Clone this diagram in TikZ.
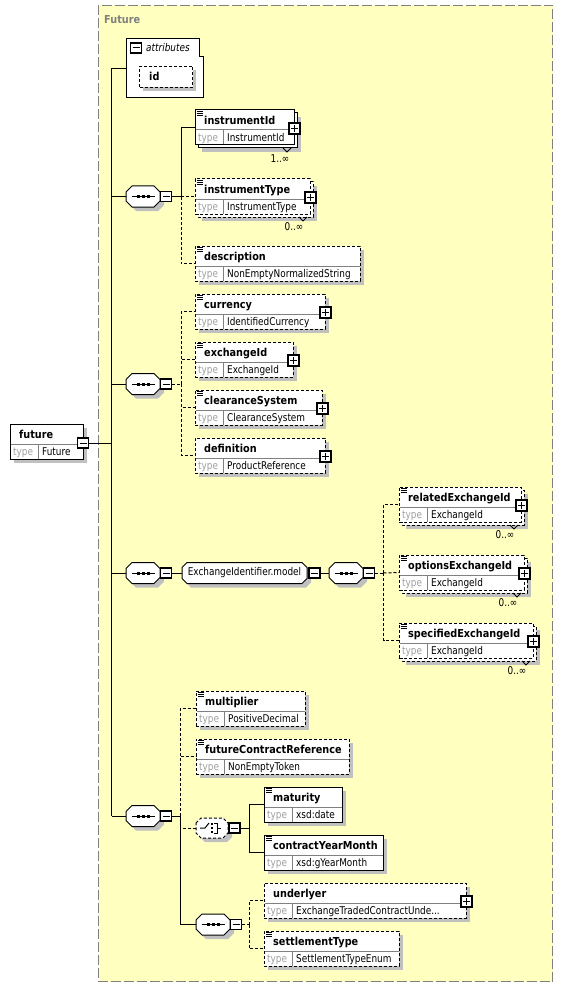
\documentclass[tikz,border=0pt]{standalone}
\usepackage{fontspec}
\setmainfont{DejaVu Sans}
\usetikzlibrary{calc}
\definecolor{bgyellow}{RGB}{255,255,192}
\definecolor{framegray}{RGB}{128,128,128}
\definecolor{shadowgray}{RGB}{192,192,192}
\definecolor{typegray}{RGB}{160,160,160}
\definecolor{divgray}{RGB}{128,128,128}
\newcommand{\tallr}[1]{\scalebox{1}[1.2]{#1}}
\newcommand{\tallb}[1]{\scalebox{1}[1.13]{#1}}
\tikzset{
  solidbox/.style={draw=black, line width=1pt},
  dashbox/.style={draw=black, line width=1pt, dash pattern=on 3pt off 2pt},
  divline/.style={draw=divgray, line width=1pt},
  titletext/.style={font=\fontsize{9.7}{11}\selectfont\bfseries, inner sep=0pt, text=black},
  typelbl/.style={font=\fontsize{8.9}{10}\selectfont, inner sep=0pt, text=typegray},
  typeval/.style={font=\fontsize{8.9}{10}\selectfont, inner sep=0pt, text=black},
  occtext/.style={font=\fontsize{8.9}{10}\selectfont, inner sep=0pt},
  pmbox/.style={draw=black, line width=1.3pt, fill=white, inner sep=0pt, minimum width=11pt, minimum height=11pt},
  minusbox/.style={draw=black, line width=1.3pt, fill=white, inner sep=0pt, minimum width=11pt, minimum height=10pt},
  conn/.style={draw=black, line width=1pt},
  dconn/.style={draw=black, line width=1pt, dash pattern=on 3pt off 2pt},
}
% element box core: name, style, x, y, w, title, type
\newcommand{\elcore}[7]{%
  \node[#2, fill=white, minimum width=#5pt, minimum height=35pt, inner sep=0pt, outer sep=0pt, anchor=north west] (#1) at (#3,#4) {};
  \draw[divline] (#3+0.5,#4+20) -- (#3+#5-0.5,#4+20);
  \draw[divline] (#3+28,#4+20) -- (#3+28,#4+34.5);
  \node[titletext, anchor=base west] (#1-title) at (#3+9,#4+14.5) {\tallb{#6}};
  \node[typelbl, anchor=base west] (#1-key) at (#3+3,#4+31.5) {\tallr{type}};
  \node[typeval, anchor=base west] (#1-val) at (#3+32,#4+31.5) {\tallr{#7}};
}
\newcommand{\elbox}[7]{%
  \fill[shadowgray] (#3+4,#4+4) rectangle ++(#5,35);
  \elcore{#1}{#2}{#3}{#4}{#5}{#6}{#7}}
% back box of a repeated element: style, x, y, w
\newcommand{\backbox}[4]{%
  \fill[shadowgray] (#2+7,#3+7) rectangle ++(#4,35);
  \draw[#1, fill=white] (#2+3,#3+3) rectangle ++(#4,35);
  \draw[line width=0.8pt] (#2+#4-11,#3+38) -- ++(4,4) -- ++(4,-4);
}
\newcommand{\docicon}[2]{%
  \draw[line width=0.7pt] (#1+2,#2+1.5) -- ++(6,0) (#1+2,#2+3.5) -- ++(6,0) (#1+2,#2+5.5) -- ++(6,0);}
\newcommand{\plusat}[3]{%
  \node[pmbox] (#1) at (#2,#3) {};
  \draw[line width=1pt] ($(#1.center)+(-3.5,0)$) -- ($(#1.center)+(3.5,0)$) ($(#1.center)+(0,-3.5)$) -- ($(#1.center)+(0,3.5)$);}
\newcommand{\minusat}[3]{%
  \node[minusbox] (#1) at (#2,#3) {};
  \draw[line width=1pt] ($(#1.center)+(-3.5,0)$) -- ($(#1.center)+(3.5,0)$);}
% octagon: name, style, x, y, w, h, chamfer
\newcommand{\octnode}[7]{%
  \fill[shadowgray, shift={(#3+4,#4+4)}] (0,#7) -- (#7,0) -- (#5-#7,0) -- (#5,#7) -- (#5,#6-#7) -- (#5-#7,#6) -- (#7,#6) -- (0,#6-#7) -- cycle;
  \draw[#2, fill=white, shift={(#3,#4)}] (0,#7) -- (#7,0) -- (#5-#7,0) -- (#5,#7) -- (#5,#6-#7) -- (#5-#7,#6) -- (#7,#6) -- (0,#6-#7) -- cycle;
  \node[inner sep=0pt, outer sep=0pt, minimum width=#5pt, minimum height=#6pt, anchor=north west] (#1) at (#3,#4) {};
}
\newcommand{\seqsym}[1]{%
  \draw[line width=1pt] ($(#1.center)+(-11.5,0)$) -- ($(#1.center)+(11.5,0)$);
  \foreach \d in {-5,0,5} \fill ($(#1.center)+(\d-1.5,-1.5)$) rectangle ++(3,3);
}
\begin{document}
\begin{tikzpicture}[x=1pt,y=-1pt]
\useasboundingbox (0,0) rectangle (564,987);
\fill[white] (0,0) rectangle (564,987);
% frame
\draw[fill=bgyellow, draw=framegray, line width=1pt, dash pattern=on 10pt off 3pt] (98.5,5.5) rectangle (552.5,981.5);
\node[font=\fontsize{9.7}{11}\selectfont\bfseries, text=framegray, anchor=base west, inner sep=0pt] (futlabel) at (104,24) {\tallb{Future}};

% attributes
\draw[solidbox, fill=white] (126,39) -- (199,39) -- (199,57) -- (203,57) -- (203,98) -- (126,98) -- cycle;
\node[inner sep=0pt, outer sep=0pt, minimum width=77pt, minimum height=59pt, anchor=north west] (attr) at (126,39) {};
\minusat{attrm}{136}{48}
\node[font=\fontsize{8.9}{10}\selectfont\itshape, anchor=base west, inner sep=0pt] (attrlbl) at (146,52) {\tallr{attributes}};
\fill[shadowgray] (143,70) rectangle ++(53,21);
\node[dashbox, fill=white, minimum width=53pt, minimum height=21pt, anchor=north west, inner sep=0pt] (id) at (139,66) {};
\node[titletext, anchor=base west] (idt) at (149,80.5) {\tallb{id}};

% future
\elbox{future}{solidbox}{10}{424}{73}{future}{Future}
\minusat{futm}{83}{443}

% sequence 1
\octnode{s1}{solidbox}{126}{186}{34}{21}{6}
\seqsym{s1}
\minusat{s1m}{166}{196.5}
\backbox{solidbox}{195}{110}{99}
\elcore{instrumentId}{solidbox}{195}{110}{99}{instrumentId}{InstrumentId}
\docicon{195}{110}
\plusat{instrumentIdp}{294.5}{128.5}
\node[occtext] (instrumentIdocc) at (280,159) {\tallr{1..∞}};
\backbox{dashbox}{195}{179}{115}
\elcore{instrumentType}{dashbox}{195}{179}{115}{instrumentType}{InstrumentType}
\docicon{195}{179}
\plusat{instrumentTypep}{310.5}{197.5}
\node[occtext] (instrumentTypeocc) at (294,227) {\tallr{0..∞}};
\elbox{description}{dashbox}{195}{246}{165}{description}{NonEmptyNormalizedString}
\docicon{195}{246}

% sequence 2
\octnode{s2}{solidbox}{126}{373.5}{34}{21}{6}
\seqsym{s2}
\minusat{s2m}{166}{384}
\elbox{currency}{dashbox}{195}{294}{130}{currency}{IdentifiedCurrency}
\docicon{195}{294}
\plusat{currencyp}{325.5}{312.5}
\elbox{exchangeId}{dashbox}{195}{342}{98}{exchangeId}{ExchangeId}
\docicon{195}{342}
\plusat{exchangeIdp}{293.5}{360.5}
\elbox{clearanceSystem}{dashbox}{195}{390}{127}{clearanceSystem}{ClearanceSystem}
\docicon{195}{390}
\plusat{clearanceSystemp}{322.5}{408.5}
\elbox{definition}{dashbox}{195}{438}{130}{definition}{ProductReference}
\plusat{definitionp}{325.5}{456.5}

% sequence 3
\octnode{s3}{solidbox}{126}{562.5}{34}{21}{6}
\seqsym{s3}
\minusat{s3m}{166}{573}
\octnode{model}{solidbox}{182}{562.5}{125}{21}{5}
\node[typeval] (modeltext) at (model.center) {\tallr{ExchangeIdentifier.model}};
\minusat{modelm}{314.5}{573}
\octnode{s4}{solidbox}{329}{562.5}{34}{21}{6}
\seqsym{s4}
\minusat{s4m}{369}{573}
\backbox{dashbox}{399}{487}{122}
\elcore{relatedExchangeId}{dashbox}{399}{487}{122}{relatedExchangeId}{ExchangeId}
\docicon{399}{487}
\plusat{relatedp}{521.5}{505.5}
\node[occtext] (relatedocc) at (505,535) {\tallr{0..∞}};
\backbox{dashbox}{399}{555}{125}
\elcore{optionsExchangeId}{dashbox}{399}{555}{125}{optionsExchangeId}{ExchangeId}
\docicon{399}{555}
\plusat{optionsp}{524.5}{573.5}
\node[occtext] (optionsocc) at (508,603) {\tallr{0..∞}};
\backbox{dashbox}{399}{623}{134}
\elcore{specifiedExchangeId}{dashbox}{399}{623}{134}{specifiedExchangeId}{ExchangeId}
\docicon{399}{623}
\plusat{specifiedp}{533.5}{641.5}
\node[occtext] (specifiedocc) at (517,671) {\tallr{0..∞}};

% sequence 5
\octnode{s5}{solidbox}{126}{805.5}{34}{21}{6}
\seqsym{s5}
\minusat{s5m}{166}{816}
\elbox{multiplier}{dashbox}{196}{691}{109}{multiplier}{PositiveDecimal}
\docicon{196}{691}
\elbox{fcr}{dashbox}{196}{739}{153}{futureContractReference}{NonEmptyToken}
\docicon{196}{739}
\octnode{choice}{dashbox}{196}{818}{32}{20}{5}
\draw[line width=1pt] ($(choice.center)+(-12,0)$) -- ++(5,0) -- ++(4,-5);
\foreach \d in {-4,0,4} \fill ($(choice.center)+(-1.25,\d-1.25)$) rectangle ++(2.5,2.5);
\draw[line width=1pt] ($(choice.center)+(2,-5)$) -- ++(3,0) -- ++(0,10) -- ++(-3,0);
\draw[line width=1pt] ($(choice.center)+(5,0)$) -- ++(4,0);
\minusat{choicem}{234.5}{828}
\elbox{maturity}{solidbox}{264}{787}{78}{maturity}{xsd:date}
\docicon{264}{787}
\elbox{cym}{solidbox}{264}{835}{119}{contractYearMonth}{xsd:gYearMonth}
\docicon{264}{835}
\octnode{s6}{solidbox}{196}{914}{34}{21}{6}
\seqsym{s6}
\minusat{s6m}{236}{924.5}
\elbox{underlyer}{dashbox}{264}{883}{202}{underlyer}{ExchangeTradedContractUnde...}
\plusat{underlyerp}{466.5}{901.5}
\elbox{settlementType}{dashbox}{264}{931}{135}{settlementType}{SettlementTypeEnum}
\docicon{264}{931}

% connectors
\coordinate (m0) at (111.5,68.5);
\coordinate (m5) at (111.5,816);
\coordinate (mf) at (111.5,443);
\draw[conn] (m0) -- (m5);
\draw[conn] (m0) -- (attr.west);
\draw[conn] (futm.east) -- (mf);
\draw[conn] (m0 |- s1.west) -- (s1.west);
\draw[conn] (m0 |- s2.west) -- (s2.west);
\draw[conn] (m0 |- s3.west) -- (s3.west);
\draw[conn] (m5) -- (s5.west);

\coordinate (b1) at (181,196.5);
\draw[conn] (s1m.east) -- (b1);
\draw[conn] (b1) |- (instrumentId.west);
\draw[dconn] (b1) -- (instrumentType.west);
\draw[dconn] (b1) |- (description.west);

\coordinate (b2) at (181,384);
\draw[dconn] (s2m.east) -- (b2);
\draw[dconn] (b2) |- (currency.west);
\draw[dconn] (b2) |- (exchangeId.west);
\draw[dconn] (b2) |- (clearanceSystem.west);
\draw[dconn] (b2) |- (definition.west);

\draw[conn] (s3m.east) -- (model.west);
\draw[conn] (modelm.east) -- (s4.west);
\coordinate (b4) at (383.5,573);
\draw[dconn] (s4m.east) -- (b4);
\draw[dconn] (b4) |- (relatedExchangeId.west);
\draw[dconn] (b4) -- (optionsExchangeId.west);
\draw[dconn] (b4) |- (specifiedExchangeId.west);

\coordinate (b5) at (180,816);
\draw[conn] (s5m.east) -- (b5);
\draw[dconn] (b5) |- (multiplier.west);
\draw[dconn] (b5) |- (fcr.west);
\draw[dconn] (b5) |- (choice.west);
\draw[conn] (b5) |- (s6.west);
\coordinate (b6) at (249,828);
\draw[conn] (choicem.east) -- (b6);
\draw[conn] (b6) |- (maturity.west);
\draw[conn] (b6) |- (cym.west);
\coordinate (b7) at (249,924.5);
\draw[dconn] (s6m.east) -- (b7);
\draw[dconn] (b7) |- (underlyer.west);
\draw[dconn] (b7) |- (settlementType.west);
\end{tikzpicture}
\end{document}
